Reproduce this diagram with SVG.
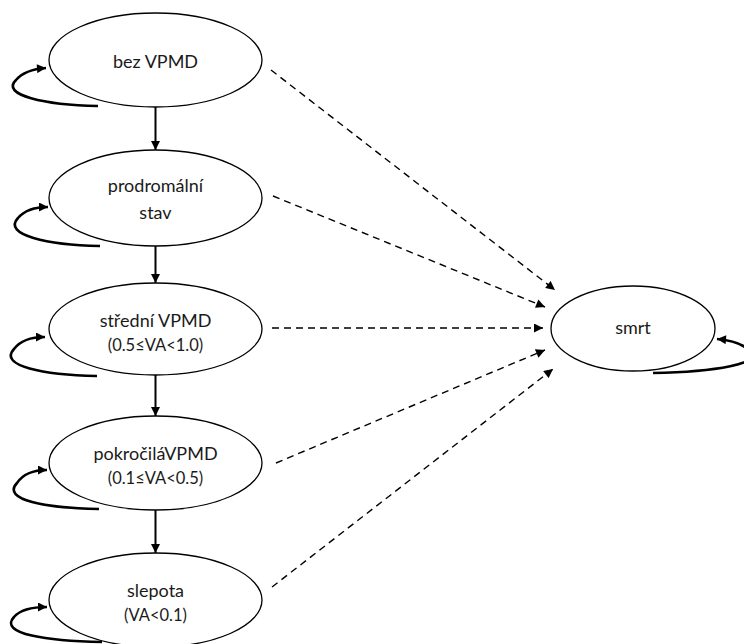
<svg xmlns="http://www.w3.org/2000/svg" width="744" height="644" viewBox="0 0 744 644">
  <style>
    .node ellipse { fill: #ffffff; stroke: #000000; stroke-width: 1.3; }
    .node text { font-family: Lato, "Open Sans", "Liberation Sans", sans-serif; fill: #1a1a1a; text-anchor: middle; }
    .t1 { font-size: 18px; }
    .t2 { font-size: 16.5px; }
    .solid { fill: none; stroke: #000000; stroke-width: 2; }
    .loop { fill: none; stroke: #000000; stroke-width: 2.6; }
    .dash { fill: none; stroke: #000000; stroke-width: 1.4; stroke-dasharray: 7 5; }
  </style>
  <defs>
    <marker id="arrow" viewBox="0 0 10 10" refX="10" refY="5" markerWidth="10" markerHeight="9" markerUnits="userSpaceOnUse" orient="auto">
      <path d="M0,0 L10,5 L0,10 z" fill="#000000"/>
    </marker>
  </defs>

  <rect width="744" height="644" fill="#ffffff"/>

  <g id="connectors">
    <!-- progression down the column -->
    <line class="solid" x1="155.5" y1="107" x2="155.5" y2="150" marker-end="url(#arrow)"/>
    <line class="solid" x1="155.5" y1="246" x2="155.5" y2="283" marker-end="url(#arrow)"/>
    <line class="solid" x1="155.5" y1="375" x2="155.5" y2="416" marker-end="url(#arrow)"/>
    <line class="solid" x1="155.5" y1="510" x2="155.5" y2="553" marker-end="url(#arrow)"/>

    <!-- self loops -->
    <path class="loop" d="M98,106 C45,105 0,95 16,80 C22,73 32,69 46,68" marker-end="url(#arrow)"/>
    <path class="loop" d="M100,246 C48,245 2,235 18,218 C24,211 34,207 48,207" marker-end="url(#arrow)"/>
    <path class="loop" d="M97,376 C44,375 -2,366 14,349 C20,341 30,337 45,337" marker-end="url(#arrow)"/>
    <path class="loop" d="M99,509 C46,508 1,500 17,483 C23,474 33,470 47,470" marker-end="url(#arrow)"/>
    <path class="loop" d="M102,642 C48,641 -2,634 14,617 C20,610 32,607 47,607" marker-end="url(#arrow)"/>
    <path class="loop" d="M653,373 C710,372 770,364 748,349 C740,343 730,340 717,339" marker-end="url(#arrow)"/>

    <!-- transitions to death -->
    <line class="dash" x1="271" y1="70" x2="555" y2="290" marker-end="url(#arrow)"/>
    <line class="dash" x1="273" y1="196" x2="545" y2="307" marker-end="url(#arrow)"/>
    <line class="dash" x1="272" y1="328" x2="543" y2="328" marker-end="url(#arrow)"/>
    <line class="dash" x1="276" y1="463" x2="545" y2="350" marker-end="url(#arrow)"/>
    <line class="dash" x1="272" y1="587" x2="553" y2="369" marker-end="url(#arrow)"/>
  </g>

  <g id="bez-vpmd" class="node">
    <ellipse cx="155.5" cy="60" rx="106.5" ry="47"/>
    <text class="t1" x="155.5" y="68">bez VPMD</text>
  </g>

  <g id="prodromalni-stav" class="node">
    <ellipse cx="155.5" cy="198" rx="106.5" ry="48"/>
    <text class="t1" x="155.5" y="192">prodromální</text>
    <text class="t1" x="155.5" y="219">stav</text>
  </g>

  <g id="stredni-vpmd" class="node">
    <ellipse cx="155.5" cy="329" rx="106.5" ry="46"/>
    <text class="t1" x="155.5" y="327">střední VPMD</text>
    <text class="t2" x="155.5" y="351">(0.5≤VA&lt;1.0)</text>
  </g>

  <g id="pokrocila-vpmd" class="node">
    <ellipse cx="155.5" cy="463" rx="106.5" ry="47"/>
    <text class="t1" x="155.5" y="460">pokročiláVPMD</text>
    <text class="t2" x="155.5" y="484">(0.1≤VA&lt;0.5)</text>
  </g>

  <g id="slepota" class="node">
    <ellipse cx="155.5" cy="600" rx="106.5" ry="47"/>
    <text class="t1" x="155.5" y="597">slepota</text>
    <text class="t2" x="155.5" y="621">(VA&lt;0.1)</text>
  </g>

  <g id="smrt" class="node">
    <ellipse cx="633" cy="328.5" rx="82" ry="42.5"/>
    <text class="t1" x="633" y="334">smrt</text>
  </g>
</svg>
